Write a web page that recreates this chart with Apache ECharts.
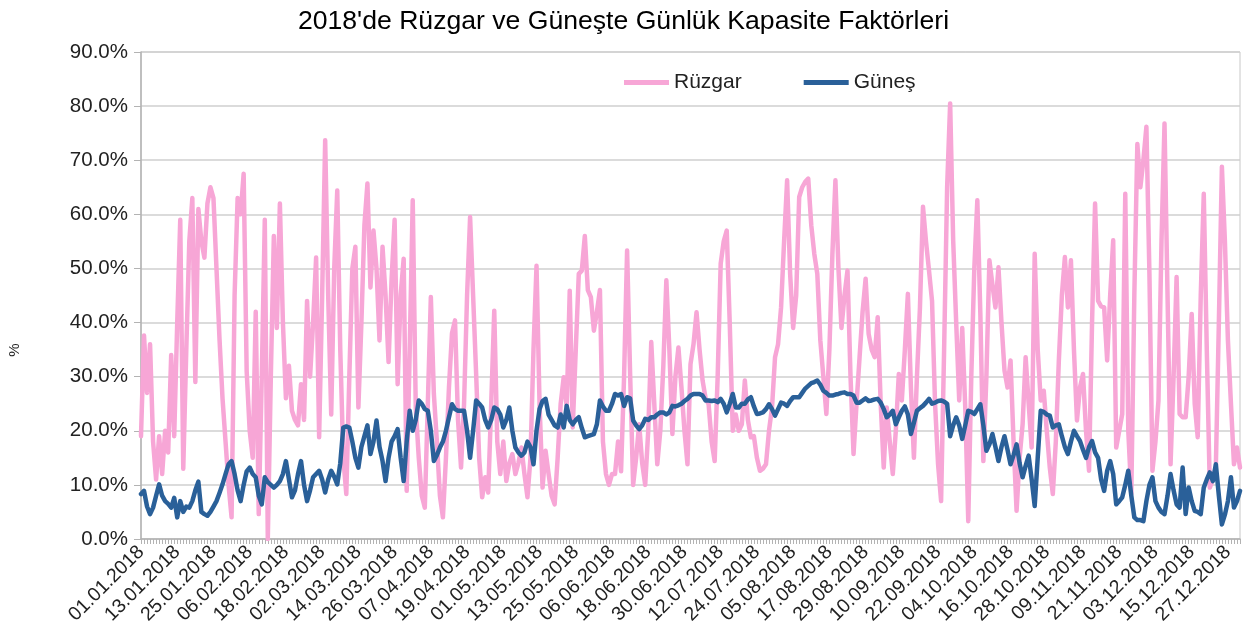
<!DOCTYPE html>
<html>
<head>
<meta charset="utf-8">
<script src="https://cdn.jsdelivr.net/npm/echarts@6/dist/echarts.min.js"></script>
<style>
  html, body { margin: 0; padding: 0; background: #fff; }
  #chart { width: 1247px; height: 643px; }
</style>
</head>
<body>
<div id="chart"></div>
<script>
'use strict';

// ── Data (daily capacity factors, %) ──────────────────────────────────────────
const seriesNames = ['Rüzgar', 'Güneş'];

const ruzgar = [
  19, 37.6, 27, 36, 18, 11, 19, 12, 20, 16,
  34, 19, 40, 59, 13, 35, 55, 63, 29, 61,
  55, 52, 62, 65, 63, 50, 37, 26, 18, 10,
  4, 45, 63, 60, 67.5, 31, 20, 15, 42, 4.6,
  30, 59, 0, 30, 56, 39, 62, 40, 26, 32,
  23.7, 22, 21, 28.6, 22, 44, 30, 40, 52, 18.8,
  45, 73.7, 45, 23, 50, 64.4, 35, 15, 8.3, 30,
  50, 54, 24.3, 40, 58, 65.7, 46.5, 57, 50, 36.7,
  54, 45, 32.7, 48, 59, 28.6, 45, 51.8, 8.9, 35,
  62.6, 24.3, 15, 8, 5.8, 25, 44.7, 26.8, 18, 8,
  4, 15, 28, 38, 40.4, 22, 13.2, 25, 45, 59.5,
  45, 30.5, 15, 7.7, 11.4, 8.6, 25, 42.2, 18, 12,
  18, 10.7, 14, 15.7, 12, 14, 16.9, 12, 7.7, 15,
  35, 50.5, 25, 9.5, 16.3, 12, 8, 6.4, 15, 25,
  29.9, 24.3, 45.9, 20.6, 35, 49, 49.6, 56, 46, 44.7,
  38.5, 42, 46, 18, 12, 10, 12, 12, 18, 12.5,
  30, 53.3, 30.5, 10, 15, 21.2, 14, 10, 20, 36.4,
  25, 13.8, 20, 32, 47.8, 35, 19.4, 30, 35.4, 28,
  20, 13.8, 32.3, 36, 41.9, 35, 29.3, 26, 24.9, 18,
  14.4, 30, 50.9, 55, 57, 39.8, 20, 23, 20, 21.2,
  29.3, 22, 18.8, 19, 15, 12.6, 13, 13.8, 20, 24.3,
  33.6, 36, 42.8, 55, 66.3, 49, 39, 45, 63.2, 65,
  66, 66.6, 58, 52.7, 49, 36.7, 30, 23.1, 35, 52.7,
  66.3, 50, 39, 45, 49.6, 30, 15.7, 25, 33.6, 42,
  48.1, 37.9, 35, 33.6, 41, 25, 13.2, 24.3, 18, 12,
  20, 30.5, 25.6, 35, 45.3, 28, 15, 30, 42.8, 61.4,
  55, 49.6, 44, 25, 13.8, 7, 35, 65, 80.5, 55.2,
  40, 25.6, 39, 24.3, 3.3, 30, 50, 62.6, 41.6, 14.4,
  30, 51.5, 47, 42.8, 50.2, 40, 31.1, 28, 33, 18,
  5.2, 15, 21.2, 33.6, 25, 16.9, 52.7, 35, 25.6, 27.4,
  20, 13.2, 8.3, 18, 33, 45, 52.1, 42.8, 51.5, 35,
  21.9, 28, 30.5, 20, 12.6, 40, 62, 44, 43, 42.8,
  33, 45, 55.2, 16.9, 20, 23.1, 63.8, 20, 8.3, 45,
  73, 65, 70, 76.2, 49, 12.6, 18, 25.6, 55, 76.8,
  45, 13.8, 30, 48.4, 23.1, 22.5, 22.5, 30, 41.6, 25,
  18.8, 45, 63.8, 35, 9.5, 11, 13.2, 40, 68.8, 55,
  36.7, 25, 13.8, 16.9, 13.2
];

const gunes = [
  8.3, 8.9, 6, 4.6, 5.8, 8, 10.1, 8, 7, 6.5,
  5.8, 7.6, 4, 7, 5, 6, 5.8, 7, 9, 10.6,
  5, 4.6, 4.3, 5, 6, 7, 8.5, 10.1, 12, 13.8,
  14.4, 12, 9, 7, 10, 12.5, 13.2, 12, 11.4, 8,
  6.4, 11.4, 10.5, 10, 9.5, 10, 10.7, 12, 14.4, 11,
  7.7, 9, 12, 14.4, 10, 7, 9, 11.4, 12, 12.6,
  11, 8.6, 11, 12.6, 11.5, 10.1, 14, 20.6, 20.8, 20.6,
  18, 15, 13.2, 17, 19, 21, 15.7, 18, 21.9, 17,
  14.4, 10.7, 15, 18, 19, 20.3, 15, 10.7, 18, 23.7,
  20, 22, 25.6, 25, 24, 23.7, 20, 14.4, 15.5, 16.9,
  18, 20, 22.5, 24.9, 24, 23.7, 23.7, 23.7, 20, 15,
  20, 25.6, 25, 24.3, 22, 20.6, 22, 24.3, 24, 23,
  20.6, 22, 24.3, 20, 16.9, 16, 15.4, 16, 18, 17,
  13.8, 20, 24, 25.5, 25.9, 23, 22, 21, 20.6, 23,
  20.6, 24.6, 22, 21.2, 22, 22.5, 20.5, 18.8, 19, 19.2,
  19.4, 21.2, 25.6, 24.5, 23.7, 23.7, 25, 26.8, 26.5, 26.8,
  24.6, 26.2, 26, 21.9, 21, 20.3, 21, 22.2, 22, 22.5,
  22.5, 23, 23.4, 23.4, 23, 23.4, 24.6, 24.5, 24.7, 25,
  25.5, 25.9, 26.5, 26.8, 26.8, 26.8, 26.5, 25.6, 25.6, 25.5,
  25.6, 25.3, 25.9, 25, 23.4, 25, 26.8, 24.3, 24.3, 25,
  25, 25.8, 26.2, 24.5, 23.1, 23.2, 23.4, 24, 24.9, 24,
  22.8, 24, 25.2, 25, 24.6, 25.5, 26.2, 26.2, 26.2, 27,
  27.8, 28.3, 28.8, 29, 29.3, 28.5, 27.4, 27, 26.5, 26.5,
  26.7, 26.8, 27, 27.1, 26.8, 26.8, 26.5, 25.2, 25.2, 25.6,
  26, 25.5, 25.6, 25.8, 25.9, 25.2, 24, 22.5, 23, 23.7,
  21.2, 22.5, 23.7, 24.5, 23, 19.4, 21.5, 23.7, 24.2, 24.6,
  25.2, 25.9, 25, 25.2, 25.5, 25.6, 25.4, 25, 19, 21,
  22.5, 21, 18.5, 21, 23.7, 23.5, 23.1, 24, 24.9, 21,
  16.3, 17.5, 19.4, 17, 14.4, 17, 19, 16.5, 13.8, 15.5,
  17.5, 14, 11.4, 13.5, 15.4, 11, 6.1, 15, 23.7, 23.5,
  23, 22.8, 20.6, 21, 21.2, 19, 17, 15.7, 18, 20,
  19, 18.1, 16.5, 15, 17, 18.1, 16, 15, 11, 8.9,
  12.6, 14.4, 12, 6.4, 7, 7.7, 10, 12.6, 8, 4,
  3.5, 3.5, 3.3, 7, 10, 11.4, 7, 5.8, 5, 4.6,
  8, 12, 9, 6.4, 5.8, 13.2, 4.6, 9.5, 7, 5.2,
  5, 4.6, 9.5, 11, 12.3, 10.7, 13.8, 8, 2.7, 4.5,
  7, 11.4, 5.8, 7, 8.9
];

// Day labels 01.01.2018 … 31.12.2018
const days = [];
for (let d = new Date(Date.UTC(2018, 0, 1)); d.getUTCFullYear() === 2018; d.setUTCDate(d.getUTCDate() + 1)) {
  const dd = String(d.getUTCDate()).padStart(2, '0');
  const mm = String(d.getUTCMonth() + 1).padStart(2, '0');
  days.push(`${dd}.${mm}.2018`);
}

const yTicks = [0, 10, 20, 30, 40, 50, 60, 70, 80, 90];

// ── Chart ─────────────────────────────────────────────────────────────────────
const FONT = 'Liberation Sans, Arial, sans-serif';
const chart = echarts.init(document.getElementById('chart'), null, { renderer: 'canvas' });

chart.setOption({
  backgroundColor: '#fff',
  animation: false,
  title: {
    text: "2018'de Rüzgar ve Güneşte Günlük Kapasite Faktörleri",
    left: 'center',
    top: 3,
    textStyle: { fontFamily: FONT, fontSize: 26.6, fontWeight: 'normal', color: '#000' }
  },
  legend: {
    data: seriesNames,
    left: 619,
    top: 67,
    icon: 'rect',
    itemWidth: 45,
    itemHeight: 5,
    itemGap: 62,
    textStyle: { fontFamily: FONT, fontSize: 21, color: '#222' }
  },
  graphic: [{
    type: 'text',
    x: 15, y: 350,
    rotation: Math.PI / 2,
    style: {
      text: '%', fontFamily: FONT, fontSize: 15, fill: '#222',
      align: 'center', verticalAlign: 'middle'
    }
  }],
  grid: {
    left: 141, right: 7, top: 52, bottom: 104,
    show: true, borderColor: '#c8c8c8', borderWidth: 1
  },
  xAxis: {
    type: 'category',
    data: days,
    boundaryGap: false,
    axisLine: { lineStyle: { color: '#b3b3b3', width: 1.5 } },
    axisTick: { show: true, interval: 0, length: 5, lineStyle: { color: '#b3b3b3' } },
    axisLabel: {
      interval: 11,
      rotate: 45,
      margin: 10,
      fontFamily: FONT,
      fontSize: 19.5,
      color: '#222'
    },
    splitLine: { show: false }
  },
  yAxis: {
    type: 'value',
    min: yTicks[0],
    max: yTicks[yTicks.length - 1],
    interval: 10,
    axisLine: { show: true, lineStyle: { color: '#b3b3b3', width: 1.5 } },
    axisTick: { show: true, length: 7, lineStyle: { color: '#b3b3b3' } },
    axisLabel: {
      margin: 13,
      fontFamily: FONT,
      fontSize: 20.5,
      color: '#222',
      formatter: v => v.toFixed(1) + '%'
    },
    splitLine: { lineStyle: { color: '#cfcfcf', width: 1.5 } }
  },
  series: [
    {
      name: seriesNames[0],
      type: 'line',
      data: ruzgar,
      showSymbol: false,
      color: '#f7a6d6',
      lineStyle: { width: 4.5, color: '#f7a6d6', join: 'round', cap: 'round' }
    },
    {
      name: seriesNames[1],
      type: 'line',
      data: gunes,
      showSymbol: false,
      color: '#2a6099',
      lineStyle: { width: 4.5, color: '#2a6099', join: 'round', cap: 'round' }
    }
  ]
});
</script>
</body>
</html>
